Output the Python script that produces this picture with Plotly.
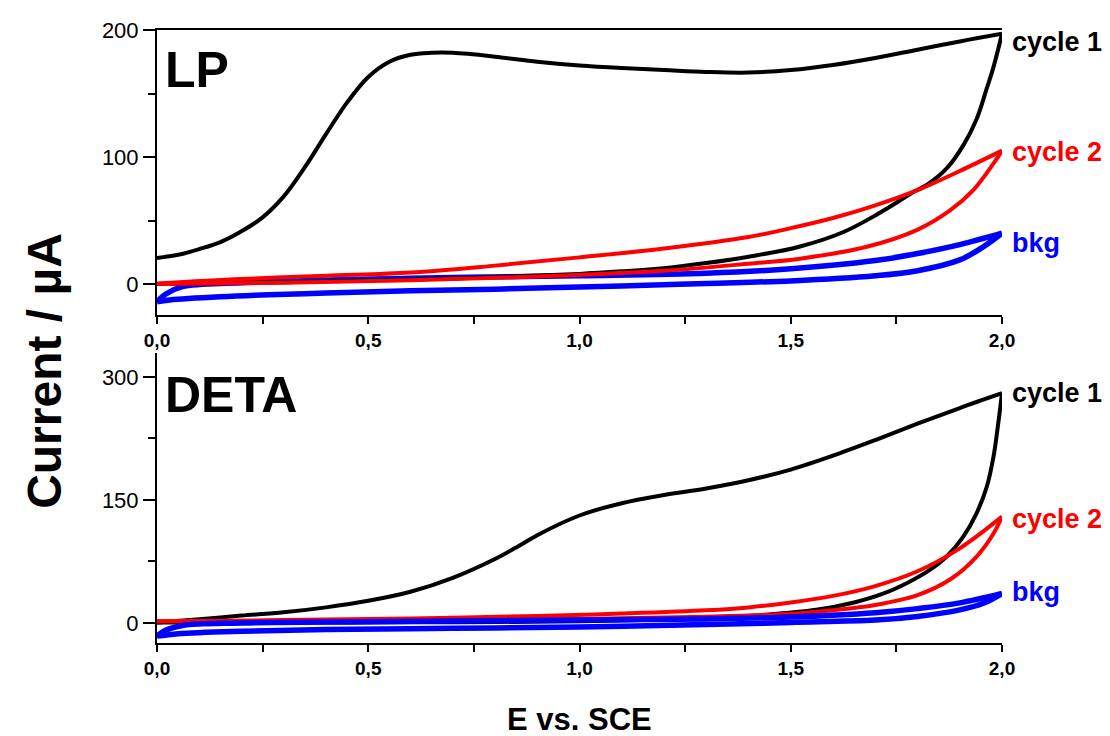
import plotly.graph_objects as go

# ---------------- data ----------------
# LP panel
lp_c1_fwd_E = [0, 0.05, 0.1, 0.15, 0.2, 0.25, 0.3, 0.35, 0.4, 0.45, 0.5, 0.55, 0.6, 0.65, 0.7, 0.8,
               0.9, 1.0, 1.1, 1.2, 1.3, 1.4, 1.5, 1.6, 1.7, 1.8, 1.9, 2.0]
lp_c1_fwd_I = [20.5, 23, 27.5, 33, 41.5, 52.5, 69, 92, 118, 143, 163, 175, 180.5, 182, 182, 179,
               175, 172, 170, 168.5, 167, 166.5, 168.5, 172.5, 178, 184.5, 191, 197]
lp_c1_rev_E = [2.0, 1.98, 1.963, 1.94, 1.908, 1.869, 1.822, 1.79, 1.75, 1.7, 1.625, 1.52, 1.4, 1.3, 1.2, 1.1,
               1.0, 0.8, 0.6, 0.3, 0.0]
lp_c1_rev_I = [197, 171, 153, 130, 109, 91, 78, 72.5, 64, 54, 41, 29.4, 21.5, 16.5, 12.5, 10,
               8, 5.5, 3.5, 1.5, 0]

lp_c2_fwd_E = [0, 0.2, 0.4, 0.6, 0.8, 1.0, 1.2, 1.4, 1.5, 1.6, 1.7, 1.8, 1.9, 2.0]
lp_c2_fwd_I = [0.5, 4, 6.5, 9, 14.5, 21, 28, 37, 44, 52, 62, 74, 89, 105]
lp_c2_rev_E = [2.0, 1.98, 1.932, 1.877, 1.798, 1.68, 1.522, 1.4, 1.2, 0.9, 0.6, 0.3, 0.0]
lp_c2_rev_I = [105, 95, 74, 58, 42.5, 29.4, 20, 16, 10.5, 6, 3, 1, 0]

lp_bkg_fwd_E = [0, 0.02, 0.06, 0.2, 0.6, 1.0, 1.3, 1.5, 1.7, 1.8, 1.9, 2.0]
lp_bkg_fwd_I = [-14, -8, -2, 1, 4.5, 6.5, 8.5, 12, 18.5, 24, 31, 40]
lp_bkg_rev_E = [2.0, 1.956, 1.9, 1.8, 1.7, 1.5, 1.3, 1.1, 0.8, 0.6, 0.4, 0.15, 0.03, 0.0]
lp_bkg_rev_I = [40, 29.4, 19, 10.5, 6.5, 2.5, 0.5, -1.5, -4, -5.3, -7, -10, -12.5, -14]

# DETA panel
deta_c1_fwd_E = [0, 0.1, 0.2, 0.3, 0.4, 0.5, 0.6, 0.7, 0.8, 0.85, 0.9, 1.0, 1.1, 1.2, 1.3,
                 1.4, 1.5, 1.6, 1.7, 1.8, 1.9, 2.0]
deta_c1_fwd_I = [0.5, 4.5, 9, 13, 19, 27, 38, 55, 78, 92, 107, 131, 146, 156, 164,
                 174, 187, 204, 223, 243, 262, 280]
deta_c1_rev_E = [2.0, 1.99, 1.98, 1.964, 1.94, 1.908, 1.869, 1.83, 1.78, 1.72, 1.65, 1.56, 1.44, 1.3, 1.15,
                 1.0, 0.7, 0.4, 0.0]
deta_c1_rev_I = [280, 239, 203, 166, 134, 105, 81, 65, 50, 36, 25, 16, 10, 6, 3.5,
                 2, 1, 0.6, 0.5]

deta_c2_fwd_E = [0, 0.3, 0.6, 0.9, 1.1, 1.3, 1.4, 1.5, 1.6, 1.7, 1.8, 1.9, 2.0]
deta_c2_fwd_I = [2, 3.5, 5.5, 8.5, 11.5, 15.5, 19, 25, 33, 45, 63, 91, 129.6]
deta_c2_rev_E = [2.0, 1.98, 1.94, 1.877, 1.8, 1.7, 1.6, 1.5, 1.3, 1.0, 0.5, 0.0]
deta_c2_rev_I = [129.6, 109, 81, 53, 34, 22, 15.5, 11.2, 7.7, 5, 3, 2]

deta_bkg_fwd_E = [0, 0.02, 0.06, 0.2, 0.5, 1.0, 1.3, 1.5, 1.7, 1.8, 1.9, 2.0]
deta_bkg_fwd_I = [-16, -9, -3, 0, 1.6, 3.7, 5, 7.2, 12.5, 17.5, 24.5, 36]
deta_bkg_rev_E = [2.0, 1.956, 1.9, 1.8, 1.7, 1.5, 1.3, 1.0, 0.7, 0.4, 0.2, 0.05, 0.0]
deta_bkg_rev_I = [36, 24, 16, 8, 3.5, 0.7, -2, -5, -6.5, -8, -10, -13, -16]

x_tickvals = [0, 0.5, 1.0, 1.5, 2.0]
x_ticktext = ["0,0", "0,5", "1,0", "1,5", "2,0"]
lp_yticks = [0, 100, 200]
deta_yticks = [0, 150, 300]

# ---------------- figure ----------------
FONT = "Arial, Liberation Sans, sans-serif"
BLACK, RED, BLUE = "#000000", "#ff0000", "#0000ff"
W_MAIN, W_BKG = 4, 5.5

fig = go.Figure()

def add_branch(E, I, color, width, xa, ya):
    fig.add_trace(go.Scatter(x=E, y=I, mode="lines",
                             line=dict(color=color, width=width, shape="spline", smoothing=1.0),
                             xaxis=xa, yaxis=ya, showlegend=False, hoverinfo="skip"))

# LP panel (top)
for E, I, c, w in [
    (lp_bkg_fwd_E, lp_bkg_fwd_I, BLUE, W_BKG), (lp_bkg_rev_E, lp_bkg_rev_I, BLUE, W_BKG),
    (lp_c1_fwd_E, lp_c1_fwd_I, BLACK, W_MAIN), (lp_c1_rev_E, lp_c1_rev_I, BLACK, W_MAIN),
    (lp_c2_fwd_E, lp_c2_fwd_I, RED, W_MAIN), (lp_c2_rev_E, lp_c2_rev_I, RED, W_MAIN),
]:
    add_branch(E, I, c, w, "x", "y")

# DETA panel (bottom)
for E, I, c, w in [
    (deta_c1_fwd_E, deta_c1_fwd_I, BLACK, W_MAIN), (deta_c1_rev_E, deta_c1_rev_I, BLACK, W_MAIN),
    (deta_c2_fwd_E, deta_c2_fwd_I, RED, W_MAIN), (deta_c2_rev_E, deta_c2_rev_I, RED, W_MAIN),
    (deta_bkg_fwd_E, deta_bkg_fwd_I, BLUE, W_BKG), (deta_bkg_rev_E, deta_bkg_rev_I, BLUE, W_BKG),
]:
    add_branch(E, I, c, w, "x2", "y2")

xcommon = dict(range=[0, 2], showgrid=False, zeroline=False, showline=True, linecolor="black", linewidth=2,
               ticks="outside", ticklen=7, tickwidth=2, tickcolor="black",
               tickvals=x_tickvals, ticktext=x_ticktext,
               tickfont=dict(family=FONT, size=19, color="black", weight="bold"),
               minor=dict(dtick=0.25, tick0=0, ticks="outside", ticklen=7, tickwidth=2, tickcolor="black"))
ycommon = dict(showgrid=False, zeroline=False, showline=True, linecolor="black", linewidth=2,
               ticks="outside", ticklen=12, tickwidth=2, tickcolor="black",
               tickfont=dict(family=FONT, size=22, color="black"))

fig.update_layout(
    width=1110, height=736,
    margin=dict(l=157, r=108, t=30, b=93),
    paper_bgcolor="white", plot_bgcolor="white",
    xaxis=dict(**xcommon, anchor="y", mirror=True),
    yaxis=dict(**ycommon, domain=[0.535, 1.0], range=[-24.4, 200], tickvals=lp_yticks,
               minor=dict(tickvals=[50, 150], ticks="outside", ticklen=7, tickwidth=2, tickcolor="black"),
               anchor="x"),
    xaxis2=dict(**xcommon, anchor="y2"),
    yaxis2=dict(**ycommon, domain=[0.0, 0.473], range=[-24.4, 329], tickvals=deta_yticks,
                minor=dict(tickvals=[75, 225], ticks="outside", ticklen=7, tickwidth=2, tickcolor="black"),
                anchor="x2"),
)

annots = [
    dict(text="LP", x=0.0071, y=0.9347, size=50, color=BLACK, xanchor="left"),
    dict(text="DETA", x=0.0071, y=0.4046, size=50, color=BLACK, xanchor="left"),
    dict(text="cycle 1", x=1.0095, y=0.980, size=27, color=BLACK, xanchor="left"),
    dict(text="cycle 2", x=1.0095, y=0.801, size=27, color=RED, xanchor="left"),
    dict(text="bkg", x=1.0095, y=0.6525, size=27, color=BLUE, xanchor="left"),
    dict(text="cycle 1", x=1.0095, y=0.408, size=27, color=BLACK, xanchor="left"),
    dict(text="cycle 2", x=1.0095, y=0.2023, size=27, color=RED, xanchor="left"),
    dict(text="bkg", x=1.0095, y=0.0832, size=27, color=BLUE, xanchor="left"),
    dict(text="E vs. SCE", x=0.5, y=-0.1256, size=31, color=BLACK, xanchor="center"),
]
for a in annots:
    fig.add_annotation(text=a["text"], x=a["x"], y=a["y"], xref="paper", yref="paper",
                       xanchor=a["xanchor"], yanchor="middle", showarrow=False,
                       font=dict(family=FONT, size=a["size"], color=a["color"], weight="bold"))

fig.add_annotation(text="Current / µA", x=-0.1325, y=0.444, xref="paper", yref="paper",
                   xanchor="center", yanchor="middle", showarrow=False, textangle=-90,
                   font=dict(family=FONT, size=48, color="black", weight="bold"))

fig.write_html("out.html", config={"displayModeBar": False},
               post_script="document.body.style.margin='0px';document.body.style.overflow='hidden';")
